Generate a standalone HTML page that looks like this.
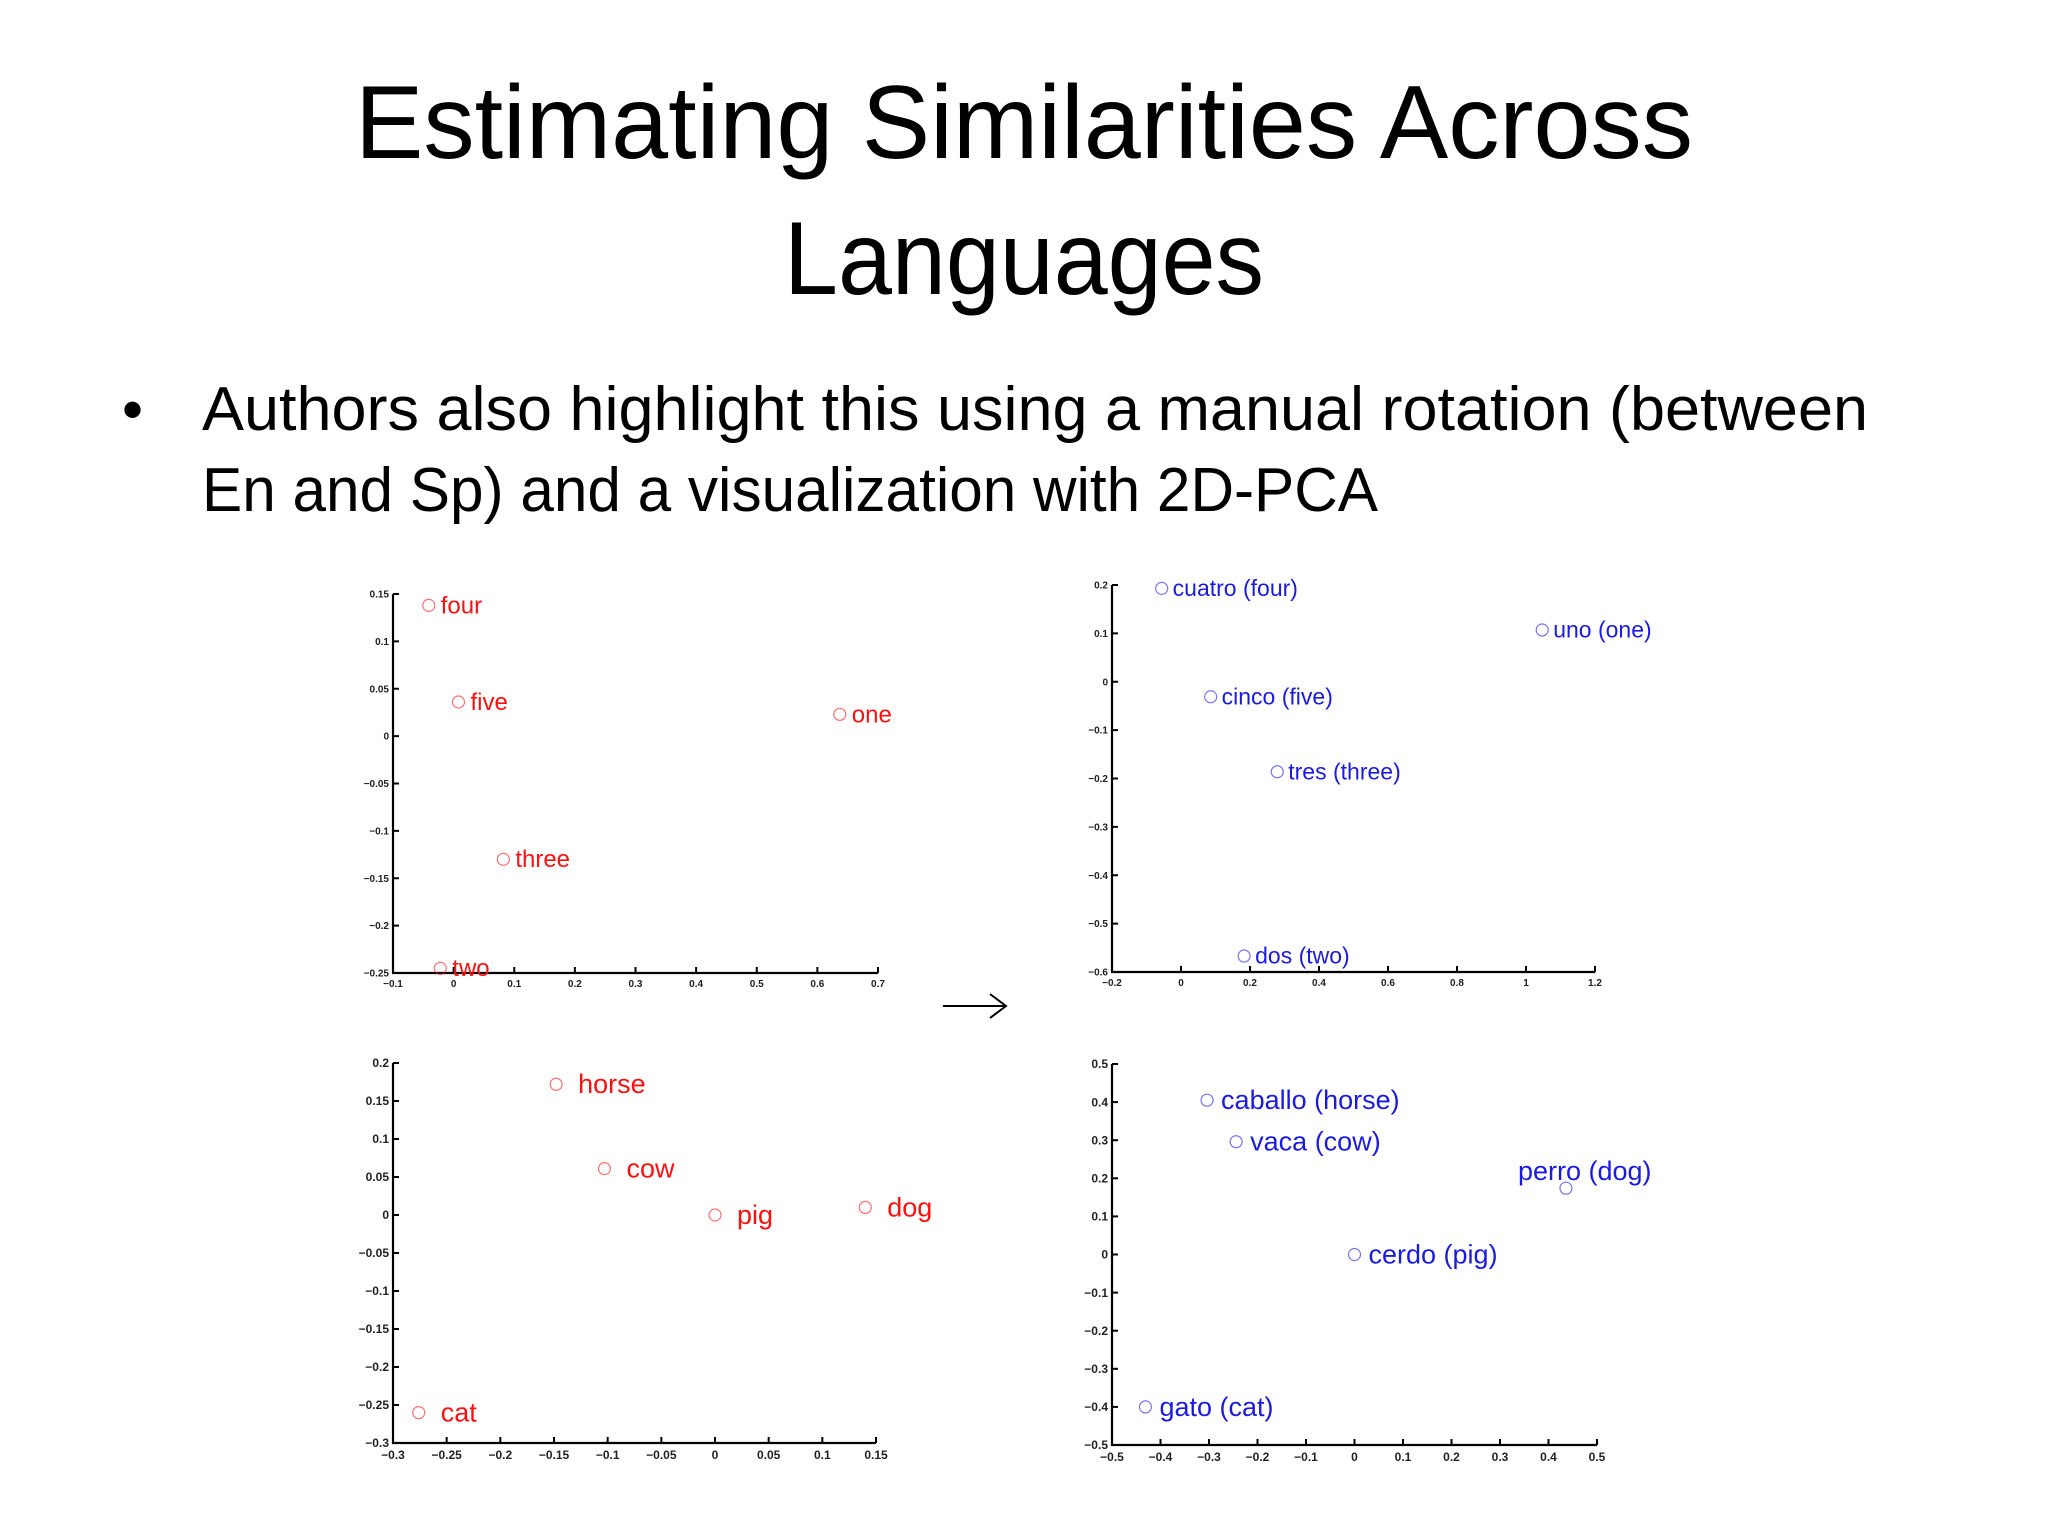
<!DOCTYPE html>
<html><head><meta charset="utf-8"><style>
html,body{margin:0;padding:0;background:#fff;}
svg{display:block;}
</style></head><body>
<svg id="root" width="2048" height="1536" viewBox="0 0 2048 1536" xmlns="http://www.w3.org/2000/svg">
<rect width="2048" height="1536" fill="#ffffff"/>
<text x="1024" y="158" text-anchor="middle" font-family="Liberation Sans, sans-serif" font-size="104" textLength="1338" lengthAdjust="spacingAndGlyphs" fill="#000">Estimating Similarities Across</text>
<text x="1024" y="294" text-anchor="middle" font-family="Liberation Sans, sans-serif" font-size="104" textLength="480" lengthAdjust="spacingAndGlyphs" fill="#000">Languages</text>
<text x="122" y="430" font-family="Liberation Sans, sans-serif" font-size="60" fill="#000">•</text>
<text x="202" y="430" font-family="Liberation Sans, sans-serif" font-size="62" textLength="1666" lengthAdjust="spacingAndGlyphs" fill="#000">Authors also highlight this using a manual rotation (between</text>
<text x="202" y="511" font-family="Liberation Sans, sans-serif" font-size="62" textLength="1176" lengthAdjust="spacingAndGlyphs" fill="#000">En and Sp) and a visualization with 2D-PCA</text>
<g stroke="#000" stroke-width="2" fill="none">
<line x1="943" y1="1006" x2="1006" y2="1006"/>
<polyline points="990,994 1006,1006 990,1018"/>
</g>
<g id="charts"></g>
</svg>
<script>
// Chart 1: English numbers
const c1Labels = ['four','five','one','three','two'];
const c1X = [-0.041, 0.008, 0.637, 0.082, -0.022];
const c1Y = [0.138, 0.036, 0.023, -0.13, -0.245];
const c1XTicks = ['-0.1','0','0.1','0.2','0.3','0.4','0.5','0.6','0.7'];
const c1YTicks = ['0.15','0.1','0.05','0','-0.05','-0.1','-0.15','-0.2','-0.25'];
// Chart 2: Spanish numbers
const c2Labels = ['cuatro (four)','uno (one)','cinco (five)','tres (three)','dos (two)'];
const c2X = [-0.056, 1.047, 0.086, 0.279, 0.183];
const c2Y = [0.193, 0.107, -0.031, -0.186, -0.567];
const c2XTicks = ['-0.2','0','0.2','0.4','0.6','0.8','1','1.2'];
const c2YTicks = ['0.2','0.1','0','-0.1','-0.2','-0.3','-0.4','-0.5','-0.6'];
// Chart 3: English animals
const c3Labels = ['horse','cow','pig','dog','cat'];
const c3X = [-0.148, -0.103, 0.0, 0.14, -0.276];
const c3Y = [0.172, 0.061, 0.0, 0.01, -0.26];
const c3XTicks = ['-0.3','-0.25','-0.2','-0.15','-0.1','-0.05','0','0.05','0.1','0.15'];
const c3YTicks = ['0.2','0.15','0.1','0.05','0','-0.05','-0.1','-0.15','-0.2','-0.25','-0.3'];
// Chart 4: Spanish animals
const c4Labels = ['caballo (horse)','vaca (cow)','perro (dog)','cerdo (pig)','gato (cat)'];
const c4X = [-0.304, -0.244, 0.436, 0.0, -0.431];
const c4Y = [0.405, 0.296, 0.174, 0.0, -0.4];
const c4XTicks = ['-0.5','-0.4','-0.3','-0.2','-0.1','0','0.1','0.2','0.3','0.4','0.5'];
const c4YTicks = ['0.5','0.4','0.3','0.2','0.1','0','-0.1','-0.2','-0.3','-0.4','-0.5'];

const NS='http://www.w3.org/2000/svg';
const root=document.getElementById('charts');
function mk(tag,attrs,parent){const e=document.createElementNS(NS,tag);for(const k in attrs)e.setAttribute(k,attrs[k]);parent.appendChild(e);return e;}
function tickText(s){return s.replace('-','\u2212');}

function chart(name,box,dom,xt,yt,labels,xs,ys,color,fs,gap,tickFs,special){
  const g=mk('g',{},root);
  
  
  const sx=v=>box.x0+(v-dom.x0)/(dom.x1-dom.x0)*(box.x1-box.x0);
  const sy=v=>box.y1-(v-dom.y0)/(dom.y1-dom.y0)*(box.y1-box.y0);
  const ax=mk('path',{d:`M${box.x0},${box.y0} V${box.y1} H${box.x1}`,stroke:'#000','stroke-width':2.2,fill:'none'},g);
  
  
  xt.forEach(t=>{const v=parseFloat(t);const x=sx(v);
    const l=mk('line',{x1:x,x2:x,y1:box.y1,y2:box.y1-6,stroke:'#000','stroke-width':2},g);
    
    
    const tx=mk('text',{x:x,y:box.y1+tickFs+4,'text-anchor':'middle','font-family':'Liberation Sans, sans-serif','font-size':tickFs,'font-weight':'bold',fill:'#222'},g);
    tx.textContent=tickText(t);
    
    
  });
  yt.forEach(t=>{const v=parseFloat(t);const y=sy(v);
    const l=mk('line',{x1:box.x0,x2:box.x0+6,y1:y,y2:y,stroke:'#000','stroke-width':2},g);
    
    
    const tx=mk('text',{x:box.x0-4,y:y+tickFs*0.35,'text-anchor':'end','font-family':'Liberation Sans, sans-serif','font-size':tickFs,'font-weight':'bold',fill:'#222'},g);
    tx.textContent=tickText(t);
    
    
  });
  labels.forEach((lab,i)=>{const x=sx(xs[i]),y=sy(ys[i]);
    const c=mk('circle',{cx:x,cy:y,r:6,fill:'none',stroke:color,'stroke-width':1.2,opacity:0.6},g);
    
    
    let lx=x+gap, ly=y+fs*0.33;
    if(special && special[i]){lx=x+special[i][0]; ly=y+special[i][1];}
    const t=mk('text',{x:lx,y:ly,'font-family':'Liberation Sans, sans-serif','font-size':fs,fill:color},g);
    t.textContent=lab;
    
    
  });
}
chart('english-numbers-chart',{x0:393,x1:878,y0:594,y1:973},{x0:-0.1,x1:0.7,y0:-0.25,y1:0.15},c1XTicks,c1YTicks,c1Labels,c1X,c1Y,'#ff1010',24,12,10);
chart('spanish-numbers-chart',{x0:1112,x1:1595,y0:585,y1:972},{x0:-0.2,x1:1.2,y0:-0.6,y1:0.2},c2XTicks,c2YTicks,c2Labels,c2X,c2Y,'#1a1ae0',23,11,10);
chart('english-animals-chart',{x0:393,x1:876,y0:1063,y1:1443},{x0:-0.3,x1:0.15,y0:-0.3,y1:0.2},c3XTicks,c3YTicks,c3Labels,c3X,c3Y,'#ff1010',27,22,12);
chart('spanish-animals-chart',{x0:1112,x1:1597,y0:1064,y1:1445},{x0:-0.5,x1:0.5,y0:-0.5,y1:0.5},c4XTicks,c4YTicks,c4Labels,c4X,c4Y,'#1a1ae0',27,14,12,{2:[-48,-8]});
</script>
</body></html>
